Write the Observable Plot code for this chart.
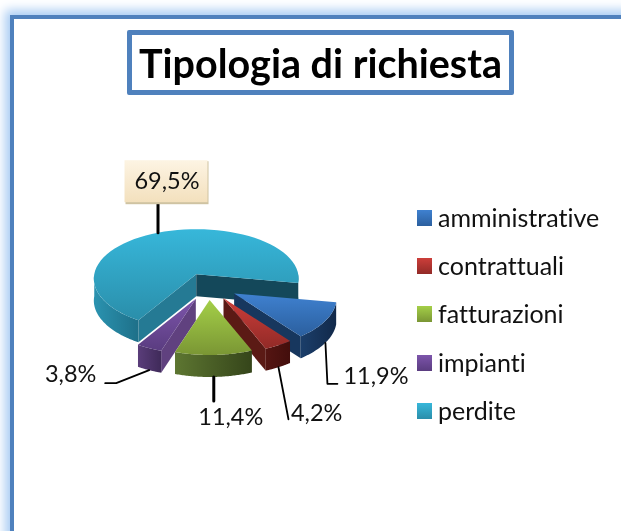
<!DOCTYPE html>
<html>
<head>
<meta charset="utf-8">
<script src="https://cdn.jsdelivr.net/npm/d3@7"></script>
<script src="https://cdn.jsdelivr.net/npm/@observablehq/plot@0.6"></script>
<style>
html,body{margin:0;padding:0;background:#fff;}
#page{position:relative;width:621px;height:531px;overflow:hidden;background:#fff;font-family:Lato,sans-serif;font-variant-ligatures:none;filter:blur(0.4px);}
#frame{position:absolute;left:10px;top:15px;width:800px;height:800px;border:4px solid #4f81bd;box-shadow:0 0 10px 5px #a9ccf3;background:#fff;}
#chart{position:absolute;left:0;top:0;}
#title{position:absolute;left:127px;top:30px;width:377px;height:55px;border:5px solid #4f81bd;border-radius:2px;background:#fff;
 font-weight:700;font-size:39.5px;line-height:55px;text-align:center;color:#000;white-space:nowrap;}
.lg{position:absolute;left:417px;height:16px;}
.lg i{position:absolute;left:0;top:0;width:15px;height:16px;}
.lg span{position:absolute;left:21px;top:-9px;line-height:32px;font-size:25px;color:#111;white-space:nowrap;}
</style>
</head>
<body>
<div id="page">
  <div id="frame"></div>
  <div id="chart"></div>
  <div id="title"></div>
</div>
<script>
const chartTitle = "Tipologia di richiesta";
const categories = ["amministrative", "contrattuali", "fatturazioni", "impianti", "perdite"];
const shares = [11.9, 4.2, 11.4, 3.8, 69.5];

// Style and layout, kept apart from the values.
const topColors  = [["#3f81d0", "#2b5f9e"], ["#cc3e3a", "#922a27"], ["#a4cf48", "#7a9634"], ["#7d55ab", "#5a3c80"], ["#37b7da", "#2a8eaa"]];
const wallColors = [["#1b3e6a", "#12294a"], ["#551512", "#430e0c"], ["#5d7631", "#35451a"], ["#5a3d7a", "#3f2a59"], ["#2b93b0", "#1e7089"]];
const cutStart = ["#17375e", "#5b1a15", "#556b2a", "#60417f", "#257a94"];
const cutEnd   = ["#17375e", "#5b1a15", "#556b2a", "#60417f", "#14485a"];
const legendRowTop = 210, legendRowStep = 48.2;
const pie3d = {cx: 208, cy: 286, rx: 102, ry: 50, perspX: 0.09, perspY: 0.1, explodeX: 30, explodeY: 13.5, depth: 22, startDeg: 10};
// Per-slice callout: leader path as offsets from the slice's rim at mid-angle, then label offset.
const callouts = [
  {path: [[2, 41], [12, 41]],   label: [18, 34], anchor: "start", sw: 1.8, dz: true},
  {path: [[10, 52]],            label: [12.5, 46], anchor: "start", sw: 1.8, dz: true},
  {path: [[0, 24]],             label: [17, 41], anchor: "middle", sw: 3, dz: true},
  {path: [[-33, 13], [-44, 13]],label: [-78.5, 4], anchor: "middle", sw: 1.8, dz: true},
  {path: [[0, -30]],            label: [9, -51], anchor: "middle", sw: 3, dz: false}
];

const rad = d => d * Math.PI / 180;
const slices = d3.pie().sort(null)
  .startAngle(rad(pie3d.startDeg + 90)).endAngle(rad(pie3d.startDeg + 450))(shares)
  .map((s, i) => {
    const a0 = s.startAngle - Math.PI / 2, a1 = s.endAngle - Math.PI / 2, mid = (a0 + a1) / 2;
    return {i, a0, a1, mid, value: shares[i], name: categories[i],
      ax: pie3d.cx + pie3d.explodeX * Math.cos(mid), ay: pie3d.cy + pie3d.explodeY * Math.sin(mid)};
  });
const at = (s, t, drop = 0) => ({
  x: s.ax + pie3d.rx * Math.cos(t) * (1 + pie3d.perspX * Math.sin(t)),
  y: s.ay + pie3d.ry * Math.sin(t) * (1 + pie3d.perspY * Math.sin(t)) + drop
});
const arcPts = (s, t0, t1, drop) => d3.range(0, 61).map(k => at(s, t0 + (t1 - t0) * k / 60, drop));

function defs() {
  const d = d3.create("svg:defs");
  const add = (id, c, horiz) => {
    const g = d.append("linearGradient").attr("id", id).attr("x1", 0).attr("y1", 0).attr("x2", horiz ? 1 : 0).attr("y2", horiz ? 0 : 1);
    g.append("stop").attr("offset", 0).attr("stop-color", c[0]);
    g.append("stop").attr("offset", 1).attr("stop-color", c[1]);
  };
  categories.forEach((_, i) => { add("top" + i, topColors[i], false); add("wall" + i, wallColors[i], true); });
  add("callout", ["#fdf4e3", "#f3e0bd"], false);
  return d.node();
}

const polygon = (pts, fill) => Plot.line(pts, {x: "x", y: "y", fill, stroke: "none", curve: "linear"});
const faces = [];
[...slices].sort((a, b) => Math.sin(a.mid) - Math.sin(b.mid)).forEach(s => {
  const apex = {x: s.ax, y: s.ay}, apexLow = {x: s.ax, y: s.ay + pie3d.depth};
  const cut = (t, fill) => polygon([apex, at(s, t), at(s, t, pie3d.depth), apexLow], fill);
  if (Math.cos(s.a0) < 0) faces.push(cut(s.a0, cutStart[s.i]));
  if (Math.cos(s.a1) > 0) faces.push(cut(s.a1, cutEnd[s.i]));
  for (const [lo, hi] of [[0, Math.PI], [2 * Math.PI, 3 * Math.PI]]) {
    const t0 = Math.max(s.a0, lo), t1 = Math.min(s.a1, hi);
    if (t1 > t0) faces.push(polygon([...arcPts(s, t0, t1, 0), ...arcPts(s, t1, t0, pie3d.depth)], `url(#wall${s.i})`));
  }
  faces.push(polygon([apex, ...arcPts(s, s.a0, s.a1, 0)], `url(#top${s.i})`));
});

const anchors = slices.map((s, i) => at(s, s.mid, callouts[i].dz ? pie3d.depth : 0));
const leaders = slices.flatMap((s, i) => [anchors[i], ...callouts[i].path.map(([dx, dy]) => ({x: anchors[i].x + dx, y: anchors[i].y + dy}))]
  .map(p => ({...p, k: s.name, sw: callouts[i].sw})));
const labels = slices.map((s, i) => ({
  x: anchors[i].x + callouts[i].label[0], y: anchors[i].y + callouts[i].label[1],
  text: s.value.toFixed(1).replace(".", ","), anchor: callouts[i].anchor
}));
const big = labels[4];
const box = {x1: big.x - 42, x2: big.x + 41, y1: big.y - 21, y2: big.y + 21};

const plot = Plot.plot({
  width: 621, height: 531, margin: 0, inset: 0,
  x: {domain: [0, 621], range: [0, 621], axis: null},
  y: {domain: [0, 531], range: [0, 531], axis: null},
  style: {background: "transparent", fontFamily: "Lato, sans-serif", overflow: "visible"},
  marks: [
    defs,
    ...faces,
    ...[1.8, 3].map(w => Plot.line(leaders.filter(d => d.sw === w), {x: "x", y: "y", z: "k", stroke: "#000", strokeWidth: w, curve: "linear"})),
    Plot.rect([box], {x1: d => d.x1 + 1, x2: d => d.x2 + 1, y1: d => d.y1 + 1, y2: d => d.y2 + 2, fill: "#cfc3a2"}),
    Plot.rect([box], {x1: "x1", x2: "x2", y1: "y1", y2: "y2", fill: "url(#callout)"}),
    ...["start", "middle"].map(a => Plot.text(labels.filter(d => d.anchor === a), {
      x: "x", y: "y", text: d => d.text + "%", textAnchor: a, fontSize: 23.5, fill: "#111"
    }))
  ]
});
document.getElementById("chart").appendChild(plot);
document.getElementById("title").textContent = chartTitle;

const page = document.getElementById("page");
categories.forEach((c, i) => {
  const row = document.createElement("div");
  row.className = "lg";
  row.style.top = (legendRowTop + i * legendRowStep) + "px";
  const sw = document.createElement("i");
  sw.style.background = `linear-gradient(${topColors[i][0]},${topColors[i][1]})`;
  const tx = document.createElement("span");
  tx.textContent = c;
  row.append(sw, tx);
  page.appendChild(row);
});
</script>
</body>
</html>
